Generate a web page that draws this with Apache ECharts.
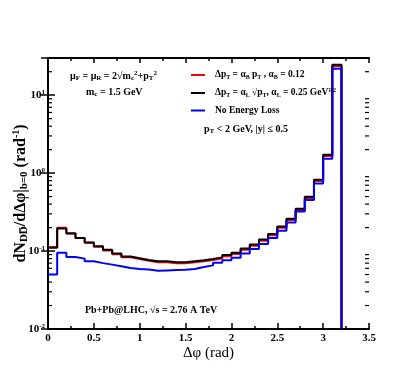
<!DOCTYPE html>
<html>
<head>
<meta charset="utf-8">
<script src="https://cdn.jsdelivr.net/npm/echarts@6/dist/echarts.min.js"></script>
<style>
  html, body { margin: 0; padding: 0; background: #fff; }
  #main { width: 415px; height: 388px; }
</style>
</head>
<body>
<div id="main"></div>
<script>
// bin left edges (rad), last bin ends at phiEnd
var phiLeft = [0, 0.1, 0.2, 0.3, 0.4, 0.5, 0.6, 0.7, 0.8, 0.9, 1.0, 1.1, 1.2, 1.3, 1.4, 1.5,
               1.6, 1.7, 1.8, 1.9, 2.0, 2.1, 2.2, 2.3, 2.4, 2.5, 2.6, 2.7, 2.8, 2.9, 3.0, 3.1];
var phiEnd = 3.2;

// dN/dDphi, alpha_B * pT energy loss
var redVals = [0.113, 0.199, 0.169, 0.147, 0.128, 0.114, 0.102, 0.091, 0.083, 0.079, 0.075, 0.072,
               0.072, 0.070, 0.070, 0.072, 0.074, 0.077, 0.080, 0.086, 0.092, 0.104, 0.117, 0.136,
               0.159, 0.199, 0.250, 0.336, 0.480, 0.790, 1.66, 23.5];
// alpha_L * sqrt(pT) energy loss
var blackVals = [0.110, 0.195, 0.168, 0.147, 0.129, 0.115, 0.104, 0.093, 0.085, 0.081, 0.077, 0.074,
                 0.074, 0.072, 0.072, 0.074, 0.076, 0.079, 0.083, 0.089, 0.095, 0.108, 0.121, 0.141,
                 0.165, 0.207, 0.260, 0.349, 0.498, 0.820, 1.72, 24.5];
// no energy loss
var blueVals = [0.050, 0.095, 0.084, 0.080, 0.074, 0.070, 0.067, 0.064, 0.0605, 0.0588, 0.058, 0.056,
                0.0565, 0.057, 0.0575, 0.059, 0.0624, 0.0655, 0.071, 0.076, 0.082, 0.093, 0.106, 0.123,
                0.147, 0.182, 0.233, 0.322, 0.451, 0.738, 1.53, 21.8];

var yMin = 0.01, yMax = 30;
var yDecades = [-2, -1, 0, 1];
var yMinorMult = [2, 3, 4, 5, 6, 7, 8, 9];

var names = ['alphaB', 'alphaL', 'noloss'];
var legendText = {
    alphaB: '\u0394p{sub|T} = \u03b1{sub|B} p{sub|T} , \u03b1{sub|B} = 0.12',
    alphaL: '\u0394p{sub|T} = \u03b1{sub|L} \u221ap{sub|T}, \u03b1{sub|L} = 0.25 GeV{sup|1/2}',
    noloss: 'No Energy Loss'
};

var FONT = '"Liberation Serif", "DejaVu Serif", serif';
var rich = {
    sub: { fontFamily: FONT, fontWeight: 'bold', fontSize: 7, verticalAlign: 'bottom', padding: [5, 0, 0, 0] },
    sup: { fontFamily: FONT, fontWeight: 'bold', fontSize: 7, verticalAlign: 'top', padding: [0, 0, 5, 0] }
};
var richSmall = {
    sub: { fontFamily: FONT, fontWeight: 'bold', fontSize: 6, verticalAlign: 'bottom', padding: [5, 0, 0, 0] },
    sup: { fontFamily: FONT, fontWeight: 'bold', fontSize: 6, verticalAlign: 'top', padding: [0, 0, 5, 0] }
};

// build step histogram points from the bins
var histo = function(vals){
    var pts = phiLeft.map(function(x, i){ return [x, vals[i]]; });
    pts.push([phiEnd, vals[vals.length - 1]]);
    pts.push([phiEnd, yMin]);
    return pts;
};

var mkSeries = function(name, vals, color){
    return {
        name: name,
        type: 'line',
        step: 'end',
        showSymbol: false,
        symbol: 'none',
        data: histo(vals),
        lineStyle: { color: color, width: 2 },
        itemStyle: { color: color },
        animation: false
    };
};

var chart = echarts.init(document.getElementById('main'));

var tickLabel = { fontFamily: FONT, fontWeight: 'bold', fontSize: 11, color: '#000' };

var option = {
    animation: false,
    grid: { left: 48, right: 46, top: 58, bottom: 59, containLabel: false, outerBoundsMode: 'none' },
    legend: {
        orient: 'vertical',
        left: 186,
        top: 65,
        itemWidth: 14,
        itemHeight: 2,
        itemGap: 7,
        icon: 'rect',
        data: names,
        formatter: function(n){ return legendText[n]; },
        textStyle: {
            fontFamily: FONT, fontWeight: 'bold', fontSize: 9.5, color: '#000',
            padding: [0, 0, 0, 5],
            rich: richSmall
        }
    },
    xAxis: [{
        type: 'value', min: 0, max: 3.5, interval: 0.5,
        position: 'bottom',
        name: '\u0394\u03c6 (rad)',
        nameLocation: 'middle',
        nameGap: 17,
        nameMoveOverlap: false,
        nameTextStyle: { fontFamily: FONT, fontSize: 15, color: '#000' },
        axisLine: { lineStyle: { color: '#000', width: 2 } },
        axisTick: { inside: true, length: 6, lineStyle: { color: '#000', width: 1.5 } },
        minorTick: { show: true, splitNumber: 2, length: 3, lineStyle: { color: '#000', width: 1.5 } },
        axisLabel: Object.assign({ margin: 4 }, tickLabel),
        splitLine: { show: false }
    }, {
        type: 'value', min: 0, max: 3.5, interval: 0.5,
        position: 'top',
        axisLine: { lineStyle: { color: '#000', width: 2 } },
        axisTick: { inside: true, length: 5, lineStyle: { color: '#000', width: 1.5 } },
        minorTick: { show: true, splitNumber: 2, length: 3, lineStyle: { color: '#000', width: 1.5 } },
        axisLabel: { show: false },
        splitLine: { show: false }
    }],
    yAxis: [{
        type: 'log', logBase: 10, min: yMin, max: yMax,
        position: 'left',
        name: 'dN{sub|DD\u0305}/d\u0394\u03c6|{sub|b=0} (rad{sup|-1})',
        nameLocation: 'middle',
        nameRotate: 90,
        nameGap: 18,
        nameMoveOverlap: false,
        nameTextStyle: {
            fontFamily: FONT, fontWeight: 'bold', fontSize: 16, color: '#000',
            rich: {
                sub: { fontFamily: FONT, fontWeight: 'bold', fontSize: 11, verticalAlign: 'bottom', padding: [8, 0, 0, 0] },
                sup: { fontFamily: FONT, fontWeight: 'bold', fontSize: 10, verticalAlign: 'top', padding: [0, 0, 8, 0] }
            }
        },
        axisLine: { lineStyle: { color: '#000', width: 2 } },
        axisTick: { inside: true, length: 7, lineStyle: { color: '#000', width: 1.5 } },
        axisLabel: {
            margin: 3,
            fontFamily: FONT, fontWeight: 'bold', fontSize: 11, color: '#000',
            formatter: function(v){
                var e = Math.round(Math.log10(v));
                if (Math.abs(Math.log10(v) - e) > 1e-6) return '';
                return '10{sup|' + e + '}';
            },
            rich: rich
        },
        splitLine: { show: false }
    }, {
        type: 'log', logBase: 10, min: yMin, max: yMax,
        position: 'right',
        axisLine: { lineStyle: { color: '#000', width: 2 } },
        axisTick: { inside: true, length: 7, lineStyle: { color: '#000', width: 1.5 } },
        axisLabel: { show: false },
        splitLine: { show: false }
    }],
    series: [
        mkSeries('alphaB', redVals, '#ff0000'),
        mkSeries('alphaL', blackVals, '#000000'),
        mkSeries('noloss', blueVals, '#0000ff')
    ]
};

chart.setOption(option);

// minor ticks of the log axes (2..9 in each decade), placed via the axis scale
var gfx = [];
var x0 = chart.convertToPixel({ xAxisIndex: 0 }, 0);
var x1 = chart.convertToPixel({ xAxisIndex: 0 }, 3.5);
yDecades.forEach(function(d){
    yMinorMult.forEach(function(m){
        var v = m * Math.pow(10, d);
        if (v > yMax) return;
        var py = chart.convertToPixel({ yAxisIndex: 0 }, v);
        gfx.push({ type: 'line', shape: { x1: x0, y1: py, x2: x0 + 4, y2: py }, style: { stroke: '#000', lineWidth: 1.2 } });
        gfx.push({ type: 'line', shape: { x1: x1, y1: py, x2: x1 - 4, y2: py }, style: { stroke: '#000', lineWidth: 1.2 } });
    });
});

var txt = function(left, top, text){
    return {
        type: 'text', left: left, top: top,
        style: { text: text, fontFamily: FONT, fontWeight: 'bold', fontSize: 10, fill: '#000', rich: rich }
    };
};
gfx.push(txt(70, 70, '\u03bc{sub|F} = \u03bc{sub|R} = 2\u221am{sub|c}{sup|2}+p{sub|T}{sup|2}'));
gfx.push(txt(86, 87, 'm{sub|c} = 1.5 GeV'));
gfx.push(txt(204, 124, 'p{sub|T} < 2 GeV, |y| \u2264 0.5'));
gfx.push(txt(85, 305, 'Pb+Pb@LHC, \u221as = 2.76 A TeV'));

chart.setOption({ graphic: gfx });
</script>
</body>
</html>
